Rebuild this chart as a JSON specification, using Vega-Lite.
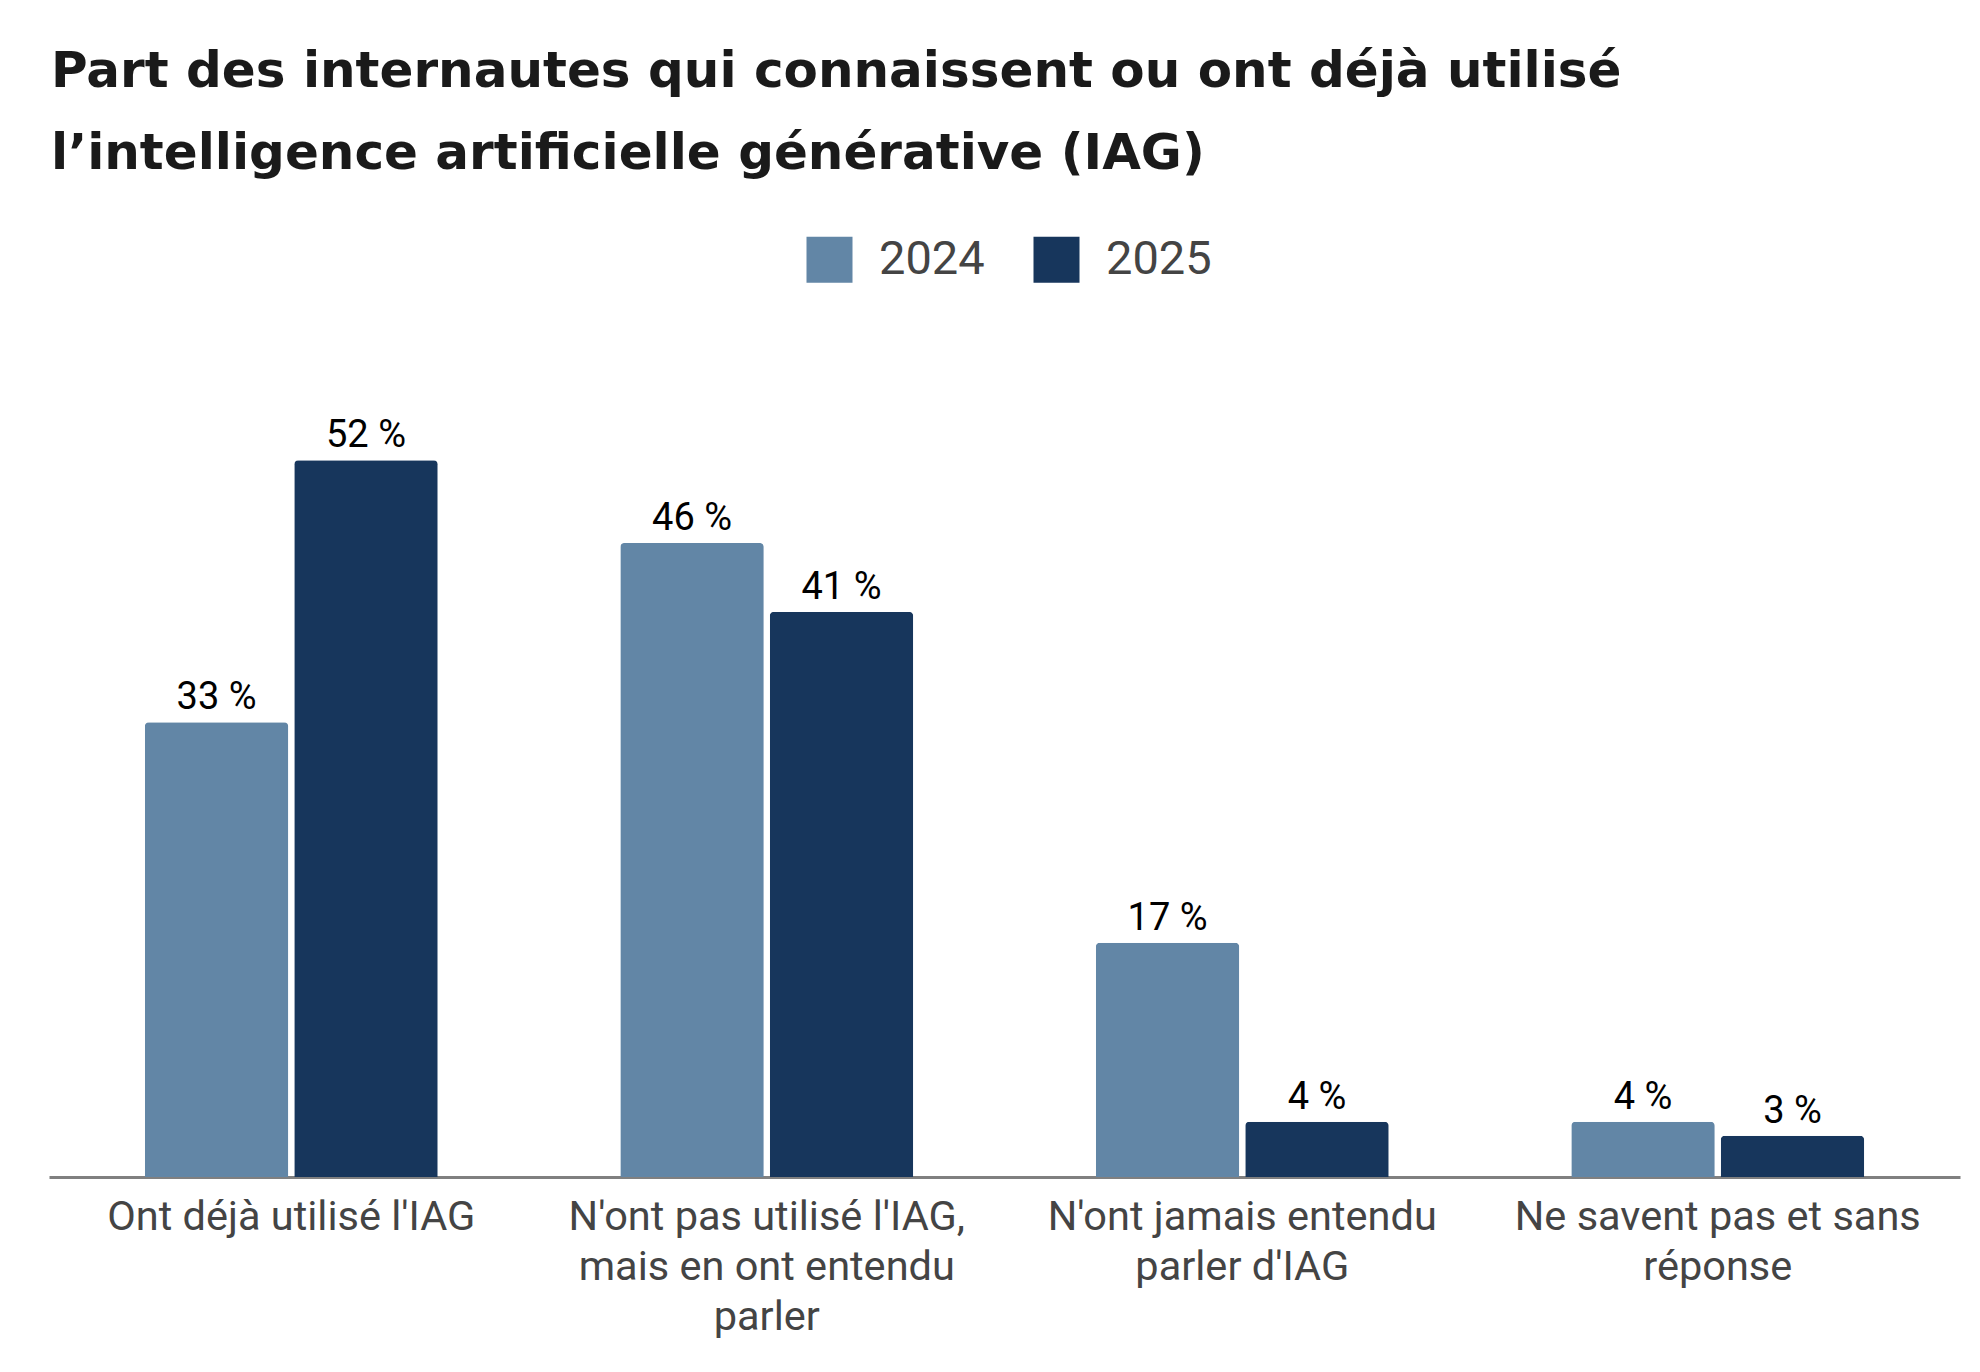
{
  "$schema": "https://vega.github.io/schema/vega-lite/v6.json",
  "autosize": {"type": "none"},
  "width": 1911,
  "height": 827,
  "padding": {"left": 49, "top": 350, "right": 20, "bottom": 195},
  "background": "white",
  "title": {
    "text": ["Part des internautes qui connaissent ou ont déjà utilisé", "l’intelligence artificielle générative (IAG)"],
    "anchor": "start",
    "frame": "group",
    "font": "DejaVu Sans",
    "fontWeight": "bold",
    "fontSize": 50,
    "lineHeight": 82,
    "color": "#1a1a1a",
    "offset": 57,
    "dx": 2
  },
  "data": {
    "values": [
      {"categorie": "Ont déjà utilisé l'IAG", "annee": "2024", "part": 0.33},
      {"categorie": "Ont déjà utilisé l'IAG", "annee": "2025", "part": 0.52},
      {"categorie": "N'ont pas utilisé l'IAG, mais en ont entendu parler", "annee": "2024", "part": 0.46},
      {"categorie": "N'ont pas utilisé l'IAG, mais en ont entendu parler", "annee": "2025", "part": 0.41},
      {"categorie": "N'ont jamais entendu parler d'IAG", "annee": "2024", "part": 0.17},
      {"categorie": "N'ont jamais entendu parler d'IAG", "annee": "2025", "part": 0.04},
      {"categorie": "Ne savent pas et sans réponse", "annee": "2024", "part": 0.04},
      {"categorie": "Ne savent pas et sans réponse", "annee": "2025", "part": 0.03}
    ]
  },
  "encoding": {
    "x": {
      "field": "categorie",
      "type": "nominal",
      "sort": null,
      "scale": {"paddingInner": 0.384, "paddingOuter": 0.2015},
      "axis": {
        "title": null,
        "ticks": false,
        "tickSize": 0,
        "labelAngle": 0,
        "labelPadding": 19,
        "labelFont": "Roboto",
        "labelFontSize": 41.5,
        "labelColor": "#444444",
        "labelLineHeight": 50,
        "labelLimit": 0,
        "domainColor": "#808080",
        "domainWidth": 3,
        "labelExpr": "datum.label == \"N'ont pas utilisé l'IAG, mais en ont entendu parler\" ? [\"N'ont pas utilisé l'IAG,\", \"mais en ont entendu\", \"parler\"] : datum.label == \"N'ont jamais entendu parler d'IAG\" ? [\"N'ont jamais entendu\", \"parler d'IAG\"] : datum.label == \"Ne savent pas et sans réponse\" ? [\"Ne savent pas et sans\", \"réponse\"] : datum.label"
      }
    },
    "xOffset": {"field": "annee", "type": "nominal", "scale": {"paddingInner": 0.04, "paddingOuter": 0}},
    "y": {"field": "part", "type": "quantitative", "scale": {"domain": [0, 0.6], "nice": false}, "axis": null},
    "color": {
      "field": "annee",
      "type": "nominal",
      "scale": {"domain": ["2024", "2025"], "range": ["#6286a6", "#17365c"]},
      "legend": {
        "title": null,
        "orient": "none",
        "legendX": 757,
        "legendY": -114,
        "direction": "horizontal",
        "symbolType": "square",
        "symbolSize": 2116,
        "symbolStrokeWidth": 0,
        "labelFont": "Roboto",
        "labelFontSize": 47,
        "labelColor": "#444444",
        "labelOffset": 26,
        "columnPadding": 48
      }
    }
  },
  "layer": [
    {"mark": {"type": "bar", "cornerRadiusTopLeft": 4, "cornerRadiusTopRight": 4}},
    {
      "mark": {"type": "text", "baseline": "alphabetic", "dy": -13, "font": "Roboto", "fontSize": 38, "color": "#000000"},
      "encoding": {
        "text": {"field": "part", "type": "quantitative", "format": ".0%"},
        "color": {"value": "#000000"}
      }
    }
  ],
  "config": {
    "view": {"stroke": null},
    "locale": {
      "number": {"decimal": ",", "thousands": " ", "grouping": [3], "currency": ["", " €"], "percent": " %"}
    }
  }
}
